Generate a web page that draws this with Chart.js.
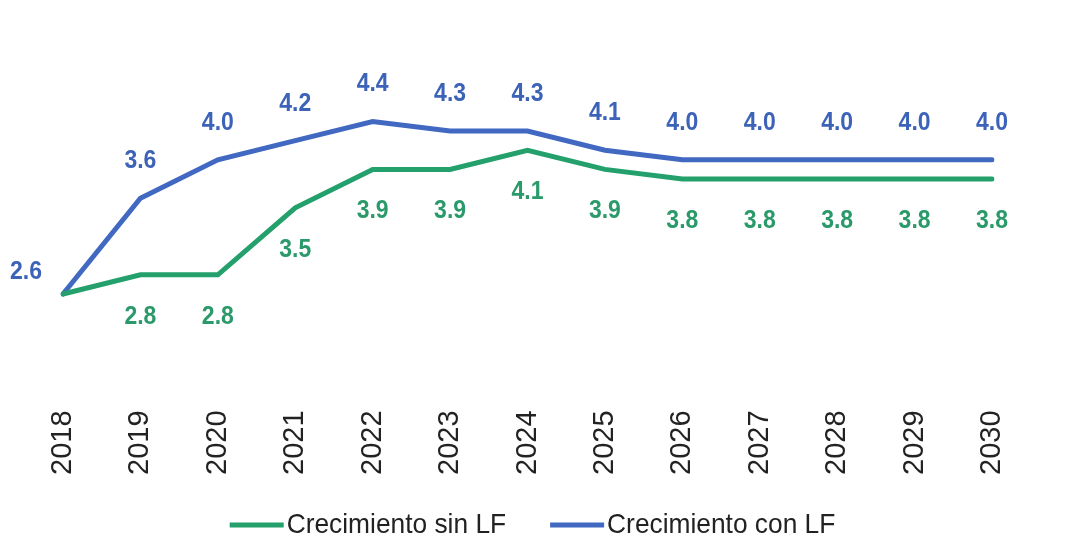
<!DOCTYPE html>
<html lang="es">
<head>
<meta charset="UTF-8">
<title>Crecimiento con y sin LF</title>
<script src="https://cdn.jsdelivr.net/npm/chart.js@4.4.0/dist/chart.umd.min.js"></script>
<style>
  html, body { margin: 0; padding: 0; background: #fff; }
  .chart-container { position: relative; width: 1065px; height: 556px; }
</style>
</head>
<body>
<div class="chart-container">
  <canvas id="myChart"></canvas>
</div>
<script>
  const years = ['2018', '2019', '2020', '2021', '2022', '2023', '2024', '2025', '2026', '2027', '2028', '2029', '2030'];
  const sinLF = [2.6, 2.8, 2.8, 3.5, 3.9, 3.9, 4.1, 3.9, 3.8, 3.8, 3.8, 3.8, 3.8];
  const conLF = [2.6, 3.6, 4.0, 4.2, 4.4, 4.3, 4.3, 4.1, 4.0, 4.0, 4.0, 4.0, 4.0];

  const GREEN = '#23a06b';
  const BLUE = '#4169c2';
  const sans = "'Liberation Sans', Arial, sans-serif";

  // squeezed text, the source uses a narrow face
  function narrowText(ctx, txt, x, y, sx) {
    ctx.save();
    ctx.translate(x, y);
    ctx.scale(sx, 1);
    ctx.fillText(txt, 0, 0);
    ctx.restore();
  }

  // value labels above / below the points
  const valueLabels = {
    id: 'valueLabels',
    afterDatasetsDraw(chart) {
      const ctx = chart.ctx;
      ctx.save();
      ctx.font = 'bold 25px ' + sans;
      ctx.textAlign = 'center';
      ctx.textBaseline = 'middle';
      chart.data.datasets.forEach((ds, di) => {
        const meta = chart.getDatasetMeta(di);
        ctx.fillStyle = ds.labelColor;
        meta.data.forEach((pt, i) => {
          const txt = ds.data[i].toFixed(1);
          if (ds.labelSide === 'below') {
            if (i === 0) return; // same start point as the other line
            narrowText(ctx, txt, pt.x, pt.y + 42, 0.92);
          } else if (i === 0) {
            narrowText(ctx, txt, pt.x - 37, pt.y - 22, 0.92);
          } else {
            narrowText(ctx, txt, pt.x, pt.y - 37, 0.92);
          }
        });
      });
      ctx.restore();
    }
  };

  // legend drawn by hand: line sample sitting right against the text
  const bottomLegend = {
    id: 'bottomLegend',
    afterDraw(chart) {
      const ctx = chart.ctx;
      ctx.save();
      ctx.font = '28px ' + sans;
      ctx.textBaseline = 'middle';
      const y = 525, sx = 0.94;
      const sample = 54, gap = 3, between = 44;
      const items = chart.data.datasets.map(ds => ({ text: ds.label, color: ds.borderColor }));
      let total = 0;
      items.forEach((it, i) => {
        it.w = ctx.measureText(it.text).width * sx;
        total += sample + gap + it.w + (i > 0 ? between : 0);
      });
      let x = (chart.width - total) / 2;
      items.forEach((it, i) => {
        if (i > 0) x += between;
        ctx.strokeStyle = it.color;
        ctx.lineWidth = 5;
        ctx.beginPath();
        ctx.moveTo(x, y);
        ctx.lineTo(x + sample, y);
        ctx.stroke();
        x += sample + gap;
        ctx.fillStyle = '#222';
        narrowText(ctx, it.text, x, y, sx);
        x += it.w;
      });
      ctx.restore();
    }
  };

  const config = {
    type: 'line',
    data: {
      labels: years,
      datasets: [{
        label: 'Crecimiento sin LF',
        data: sinLF,
        borderColor: GREEN,
        backgroundColor: GREEN,
        labelColor: '#2a9a6a',
        labelSide: 'below',
        borderWidth: 5,
        borderCapStyle: 'round',
        pointRadius: 0,
        tension: 0,
        fill: false
      }, {
        label: 'Crecimiento con LF',
        data: conLF,
        borderColor: BLUE,
        backgroundColor: BLUE,
        labelColor: '#3d63b8',
        labelSide: 'above',
        borderWidth: 5,
        borderCapStyle: 'round',
        pointRadius: 0,
        tension: 0,
        fill: false
      }]
    },
    options: {
      responsive: true,
      maintainAspectRatio: false,
      animation: false,
      layout: {
        padding: { left: 63, right: 73, top: 64, bottom: 22 }
      },
      plugins: {
        legend: { display: false },
        tooltip: { enabled: false }
      },
      scales: {
        x: {
          offset: false,
          grid: { display: false, drawTicks: false },
          border: { display: false },
          afterFit(scale) {
            scale.paddingLeft = 0;
            scale.paddingRight = 0;
          },
          ticks: {
            color: '#222',
            font: { family: sans, size: 29 },
            minRotation: 90,
            maxRotation: 90,
            padding: 59,
            autoSkip: false
          }
        },
        y: {
          display: false,
          min: 2.0,
          max: 5.0
        }
      }
    },
    plugins: [valueLabels, bottomLegend]
  };

  const ctx = document.getElementById('myChart').getContext('2d');
  const chart = new Chart(ctx, config);
</script>
</body>
</html>
